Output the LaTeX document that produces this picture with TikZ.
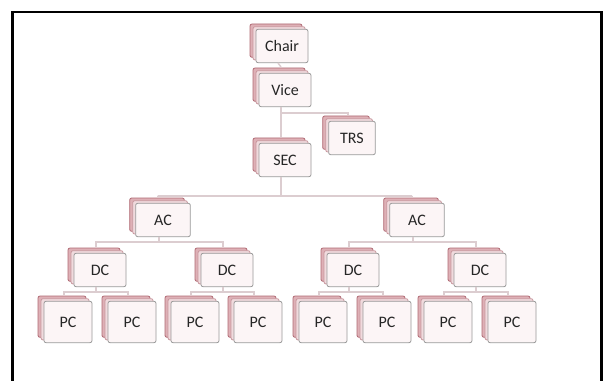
\documentclass[tikz,border=0pt]{standalone}
\usepackage{fontspec}
\setmainfont{Carlito}
\usetikzlibrary{calc,shadows}
\definecolor{stackred}{RGB}{176,106,116}
\definecolor{stackpink}{RGB}{222,176,182}
\definecolor{stacklight}{RGB}{240,218,221}
\definecolor{frontfill}{RGB}{252,245,246}
\definecolor{linkpink}{RGB}{220,205,208}

\tikzset{
  stackbox/.style={draw=gray!80,fill=frontfill,rounded corners=1.5pt,line width=0.6pt,
    minimum width=39pt,minimum height=25pt,inner sep=0pt,
    font=\fontsize{12}{14}\selectfont,text=black!85,
    copy shadow={shadow xshift=-4.5pt,shadow yshift=4pt,fill=stackpink,draw=stackred},
    copy shadow={shadow xshift=-2.2pt,shadow yshift=2pt,fill=stacklight,draw=stackred!70}},
  pcbox/.style={stackbox,minimum width=36pt,minimum height=31pt},
  link/.style={draw=linkpink,line width=1.1pt}
}

\begin{document}
\begin{tikzpicture}[x=0.75pt,y=-0.75pt]
  \useasboundingbox (0,0) rectangle (603,381);
  \fill[white] (0,0) rectangle (603,381);
  \draw[line width=1.6pt] (12.5,400) -- (12.5,12) -- (601.5,12) -- (601.5,400);

  % top of the chart
  \node[stackbox] (chair) at (282,46) {Chair};
  \node[stackbox] (vice) at (285,90) {Vice};
  \node[stackbox,minimum width=35pt] (trs) at (352,138) {TRS};
  \node[stackbox] (sec) at (285,160) {SEC};

  % area level
  \node[stackbox,minimum width=41pt] (acL) at (163,220) {AC};
  \node[stackbox,minimum width=41pt] (acR) at (417,220) {AC};

  % district level
  \node[stackbox] (dc1) at (100,270) {DC};
  \node[stackbox] (dc2) at (227,270) {DC};
  \node[stackbox] (dc3) at (353,270) {DC};
  \node[stackbox] (dc4) at (480,270) {DC};

  % post level
  \foreach \px [count=\i] in {68,132,195,258,323,387,448,512}
    \node[pcbox] (pc\i) at (\px,322) {PC};

  % connectors
  \draw[link] ($(chair.south)+(-4,0)$) -- ($(vice.north)+(-4,-6)$);
  \draw[link] ($(vice.south)+(-4,0)$) -- ($(sec.north)+(-4,-6)$);
  \draw[link] ($(vice.south)+(-4,6)$) -| ($(trs.north)+(-4,-6)$);
  \draw[link] ($(sec.south)+(-4,0)$) -- ($(sec.south)+(-4,19)$) -| ($(acL.north)+(-5,-7)$);
  \draw[link] ($(sec.south)+(-4,19)$) -| ($(acR.north)+(-5,-7)$);
  \draw[link] ($(acL.south)+(-4,0)$) -- ($(acL.south)+(-4,5)$) -| ($(dc1.north)+(-4,-6)$);
  \draw[link] ($(acL.south)+(-4,5)$) -| ($(dc2.north)+(-4,-6)$);
  \draw[link] ($(acR.south)+(-4,0)$) -- ($(acR.south)+(-4,5)$) -| ($(dc3.north)+(-4,-6)$);
  \draw[link] ($(acR.south)+(-4,5)$) -| ($(dc4.north)+(-4,-6)$);
  \foreach \d/\a/\b in {1/1/2,2/3/4,3/5/6,4/7/8}{
    \draw[link] ($(dc\d.south)+(-4,0)$) -- ($(dc\d.south)+(-4,5)$) -| ($(pc\a.north)+(-4,-6)$);
    \draw[link] ($(dc\d.south)+(-4,5)$) -| ($(pc\b.north)+(-4,-6)$);
  }
\end{tikzpicture}
\end{document}
